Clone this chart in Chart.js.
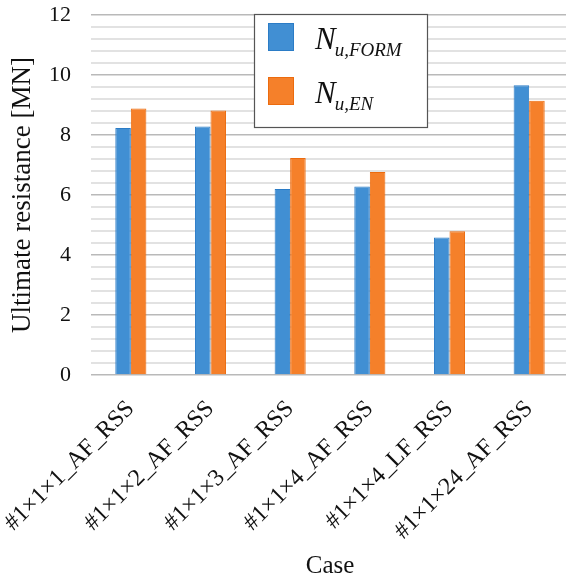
<!DOCTYPE html>
<html>
<head>
<meta charset="utf-8">
<script src="https://cdn.jsdelivr.net/npm/chart.js@4.4.1/dist/chart.umd.min.js"></script>
<style>
    html, body { margin: 0; padding: 0; background: #fff; overflow: hidden; }
    #wrap { width: 575px; height: 581px; }
</style>
</head>
<body>
<div id="wrap"><canvas id="chart" width="575" height="581"></canvas></div>
<script>
const cases = ["#1×1×1_AF_RSS", "#1×1×2_AF_RSS", "#1×1×3_AF_RSS", "#1×1×4_AF_RSS", "#1×1×4_LF_RSS", "#1×1×24_AF_RSS"];
const nuForm = [8.23, 8.28, 6.2, 6.28, 4.58, 9.66];
const nuEn = [8.88, 8.82, 7.23, 6.77, 4.79, 9.14];
const seriesSymbol = "N";
const seriesSubs = ["u,FORM", "u,EN"];
const yTicks = [0, 2, 4, 6, 8, 10, 12];

const serif = "'Liberation Serif', 'Times New Roman', serif";

function isMajor(v) {
    return yTicks.some(t => Math.abs(t - v) < 1e-6);
}

// legend drawn as a boxed panel inside the plot, like the original
const boxLegend = {
    id: "boxLegend",
    afterDraw(chart) {
        const ctx = chart.ctx;
        ctx.save();
        ctx.fillStyle = "#fff";
        ctx.fillRect(254, 14, 173, 113);
        ctx.strokeStyle = "#555";
        ctx.lineWidth = 1.2;
        ctx.strokeRect(254.5, 14.5, 173, 113);
        chart.data.datasets.forEach((ds, i) => {
            const top = 23 + i * 54;
            ctx.fillStyle = ds.backgroundColor;
            ctx.fillRect(268, top, 26, 28);
            ctx.strokeStyle = ds.borderColor;
            ctx.lineWidth = 1;
            ctx.strokeRect(268.5, top + 0.5, 25, 27);
            ctx.fillStyle = "#111";
            ctx.textBaseline = "alphabetic";
            ctx.font = "italic 31px " + serif;
            ctx.fillText(seriesSymbol, 315, top + 26);
            const w = ctx.measureText(seriesSymbol).width;
            ctx.font = "italic 19px " + serif;
            ctx.fillText(seriesSubs[i], 315 + w - 1, top + 33);
        });
        ctx.restore();
    }
};

new Chart(document.getElementById("chart"), {
    type: "bar",
    data: {
        labels: cases,
        datasets: [{
            label: seriesSymbol + " " + seriesSubs[0],
            data: nuForm,
            backgroundColor: "#418fd3",
            borderColor: "#2b7cc6",
            borderWidth: 1
        },
        {
            label: seriesSymbol + " " + seriesSubs[1],
            data: nuEn,
            backgroundColor: "#f5802a",
            borderColor: "#ec6b0e",
            borderWidth: 1
        }]
    },
    options: {
        responsive: false,
        animation: false,
        layout: { padding: { top: 15, right: 6, left: 0, bottom: 0 } },
        datasets: {
            bar: { categoryPercentage: 0.39, barPercentage: 1 }
        },
        plugins: {
            legend: { display: false },
            tooltip: { enabled: false }
        },
        scales: {
            x: {
                grid: { display: false },
                border: { display: false },
                ticks: {
                    color: "#111",
                    minRotation: 45,
                    maxRotation: 45,
                    padding: 12,
                    autoSkip: false,
                    font: { family: serif, size: 24 }
                },
                title: {
                    display: true,
                    text: "Case",
                    color: "#111",
                    padding: { top: 4, bottom: 0 },
                    font: { family: serif, size: 25 }
                },
                afterFit(scale) {
                    scale.height = 206;
                    scale.paddingLeft = 0;
                    scale.paddingRight = 0;
                }
            },
            y: {
                min: 0,
                max: 12,
                border: { display: false },
                grid: {
                    drawTicks: false,
                    color: c => isMajor(c.tick.value) ? "#b9b9b9" : "#e2e2e2",
                    lineWidth: c => isMajor(c.tick.value) ? 1.6 : 2
                },
                ticks: {
                    stepSize: 0.4,
                    autoSkip: false,
                    padding: 20,
                    color: "#111",
                    font: { family: serif, size: 22 },
                    callback: v => isMajor(v) ? Math.round(v) : ""
                },
                title: {
                    display: true,
                    text: "Ultimate resistance [MN]",
                    color: "#111",
                    padding: { top: 7, bottom: 4 },
                    font: { family: serif, size: 27 }
                },
                afterFit(scale) {
                    scale.width = 91;
                    scale.paddingTop = 0;
                    scale.paddingBottom = 0;
                }
            }
        }
    },
    plugins: [boxLegend]
});
</script>
</body>
</html>
